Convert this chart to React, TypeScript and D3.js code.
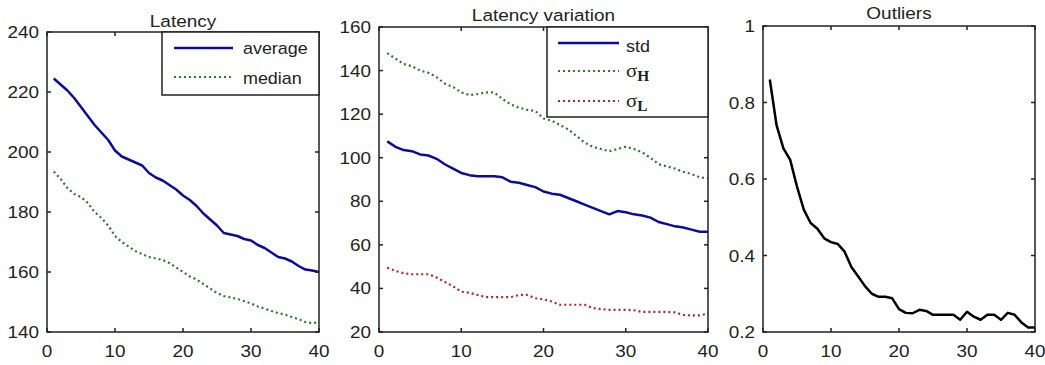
import React from "react";
import * as d3 from "d3";

const xs = d3.range(1, 41);

const latencyAverage = [224.5,222.5,220.5,218,215,212,209,206.5,204,200.5,198.5,197.5,196.5,195.5,193,191.5,190.5,189,187.5,185.5,184,182,179.5,177.5,175.5,173,172.5,172,171,170.5,169,168,166.5,165,164.5,163.5,162,160.8,160.5,160];
const latencyMedian = [193.5,191,188,186,185,183,180,178,175.5,172,170,168.5,167,166,165,164.5,164,163,161.5,160,158.5,157.5,156,154.5,153,152,151.5,151,150.3,149.5,148.5,147.8,147,146.3,145.8,145,144.3,143.3,143,143.2];
const stdValues = [107.5,105,103.5,103,101.5,101,99.5,97,95,93,92,91.5,91.5,91.5,91,89,88.5,87.5,86.5,84.5,83.5,83,81.5,80,78.5,77,75.5,74,75.5,75,74,73.5,72.5,70.5,69.5,68.5,68,67,66,66];
const sigmaH = [148,145.5,143,142,140,139,137,134,132.5,130,128.8,129.2,130,130,127,124.5,123,122,121.5,118,117,115,113,110,107,105,104,103,104,105,104,102.5,100,97,96,95,93.5,92.5,91,90.5];
const sigmaL = [49.5,48,47,46.5,46.5,46.5,45,43,41,38.5,38,37,36,36,36,36,37,37,35.5,35,34,32.5,32.5,32.5,32.5,31,30.5,30.2,30.2,30.2,30,29.2,29.2,29.2,29.2,29,27.8,27.6,27.6,28.5];
const outliers = [0.86,0.74,0.68,0.65,0.58,0.52,0.485,0.47,0.445,0.435,0.43,0.41,0.37,0.345,0.32,0.3,0.292,0.292,0.288,0.26,0.25,0.249,0.258,0.255,0.245,0.245,0.245,0.245,0.232,0.253,0.24,0.232,0.245,0.245,0.232,0.25,0.245,0.225,0.212,0.212];

const xTicks = [0, 10, 20, 30, 40];
const yTicks1 = [140, 160, 180, 200, 220, 240];
const yTicks2 = [20, 40, 60, 80, 100, 120, 140, 160];
const yTicks3 = [0.2, 0.4, 0.6, 0.8, 1];

const FONT = "'Liberation Sans', Arial, sans-serif";
const SERIF = "'Liberation Serif', 'Times New Roman', serif";
const BLUE = "#0c0c96";
const GREEN = "#2a7a2a";
const RED = "#b02525";

function T({ x, y, children, anchor = "middle", size = 16, sx = 1.18, baseline = "alphabetic", family = FONT, weight = "normal" }: any) {
  return (
    <g transform={`translate(${x},${y}) scale(${sx},1)`}>
      <text x={0} y={0} textAnchor={anchor} fontSize={size} fontFamily={family} fontWeight={weight} dominantBaseline={baseline} fill="#222">
        {children}
      </text>
    </g>
  );
}

function Panel({ left, right, top, bottom, yDomain, yTicks, title, titleY, series, fmt }: any) {
  const x = d3.scaleLinear().domain([0, 40]).range([left, right]);
  const y = d3.scaleLinear().domain(yDomain).range([bottom, top]);
  const tl = 4;
  return (
    <g>
      {series.map((s: any, i: number) => {
        const line = d3.line<number>().x((_, j) => x(xs[j])).y((d) => y(d));
        return (
          <path key={i} d={line(s.values) || ""} fill="none" stroke={s.color} strokeWidth={s.width}
            strokeDasharray={s.dash || undefined} strokeLinejoin="round" />
        );
      })}
      <rect x={left} y={top} width={right - left} height={bottom - top} fill="none" stroke="#222" strokeWidth={1.5} />
      {xTicks.map((t) => (
        <g key={"x" + t}>
          <line x1={x(t)} x2={x(t)} y1={bottom} y2={bottom - tl} stroke="#222" strokeWidth={1.5} />
          <line x1={x(t)} x2={x(t)} y1={top} y2={top + tl} stroke="#222" strokeWidth={1.5} />
          <T x={x(t)} y={bottom + 25}>{t}</T>
        </g>
      ))}
      {yTicks.map((t: number) => (
        <g key={"y" + t}>
          <line x1={left} x2={left + tl} y1={y(t)} y2={y(t)} stroke="#222" strokeWidth={1.5} />
          <line x1={right} x2={right - tl} y1={y(t)} y2={y(t)} stroke="#222" strokeWidth={1.5} />
          <T x={left - 8} y={y(t) + 6} anchor="end">{fmt(t)}</T>
        </g>
      ))}
      <T x={(left + right) / 2} y={titleY} size={16.5} sx={1.15}>{title}</T>
    </g>
  );
}

export default function App() {
  return (
    <svg width={1045} height={365} style={{ position: "absolute", left: 0, top: 0, background: "#fff" }}>
      <rect width={1045} height={365} fill="#fff" />
      <Panel left={47} right={319} top={32} bottom={332} yDomain={[140, 240]} yTicks={yTicks1}
        title="Latency" titleY={27} fmt={(t: number) => String(t)}
        series={[
          { values: latencyMedian, color: GREEN, width: 2.2, dash: "2,3" },
          { values: latencyAverage, color: BLUE, width: 2.5 },
        ]} />
      <g>
        <rect x={162} y={32} width={157} height={63} fill="#fff" stroke="#222" strokeWidth={1.5} />
        <line x1={174} x2={233} y1={48} y2={48} stroke={BLUE} strokeWidth={2.5} />
        <T x={243} y={54} anchor="start" sx={1.12}>average</T>
        <line x1={174} x2={233} y1={77} y2={77} stroke={GREEN} strokeWidth={2.2} strokeDasharray="2,3" />
        <T x={243} y={84} anchor="start" sx={1.12}>median</T>
      </g>

      <Panel left={379} right={708} top={27} bottom={332} yDomain={[20, 160]} yTicks={yTicks2}
        title="Latency variation" titleY={21} fmt={(t: number) => String(t)}
        series={[
          { values: sigmaH, color: GREEN, width: 2.2, dash: "2,3" },
          { values: sigmaL, color: RED, width: 2.2, dash: "2,3" },
          { values: stdValues, color: BLUE, width: 2.5 },
        ]} />
      <g>
        <rect x={547} y={27} width={161} height={90} fill="#fff" stroke="#222" strokeWidth={1.5} />
        <line x1={558} x2={619} y1={43} y2={43} stroke={BLUE} strokeWidth={2.5} />
        <T x={626} y={52} anchor="start" sx={1.12}>std</T>
        <line x1={558} x2={619} y1={71} y2={71} stroke={GREEN} strokeWidth={2.2} strokeDasharray="2,3" />
        <g transform="translate(626,77) scale(1.1,1)">
          <text fontFamily={SERIF} fontSize={19} fill="#222">σ<tspan fontSize={14} fontWeight="bold" dy={4}>H</tspan></text>
        </g>
        <line x1={558} x2={619} y1={101} y2={101} stroke={RED} strokeWidth={2.2} strokeDasharray="2,3" />
        <g transform="translate(626,107) scale(1.1,1)">
          <text fontFamily={SERIF} fontSize={19} fill="#222">σ<tspan fontSize={14} fontWeight="bold" dy={4}>L</tspan></text>
        </g>
      </g>

      <Panel left={763} right={1035} top={26} bottom={332} yDomain={[0.2, 1]} yTicks={yTicks3}
        title="Outliers" titleY={19} fmt={(t: number) => (t === 1 ? "1" : String(t))}
        series={[{ values: outliers, color: "#000", width: 2.5 }]} />
    </svg>
  );
}
